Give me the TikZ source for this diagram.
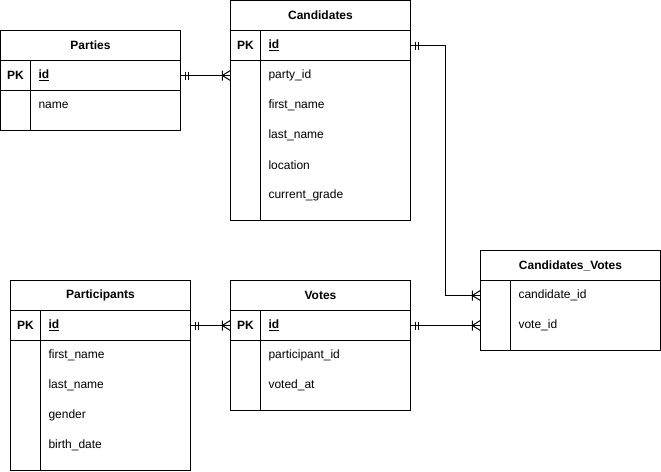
\documentclass[tikz,border=0pt]{standalone}
\usepackage{fontspec}
\setmainfont{Liberation Sans}
\begin{document}
\begin{tikzpicture}[x=1pt,y=-1pt,
  frame/.style={draw, line width=1pt, minimum width=180pt, inner sep=0},
  head/.style={minimum width=180pt, minimum height=30pt, inner sep=0,
    font=\bfseries\fontsize{12}{14}\selectfont},
  field/.style={minimum width=180pt, minimum height=30pt, text width=104pt,
    align=left, inner sep=0, font=\fontsize{12}{14}\selectfont},
  keyfield/.style={field, font=\bfseries\fontsize{12}{14}\selectfont},
  key/.style={minimum width=30pt, minimum height=30pt, inner sep=0,
    font=\bfseries\fontsize{12}{14}\selectfont},
  rule/.style={line width=1pt},
  rel/.style={line width=1pt},
  pics/onlyone/.style={code={\draw[rel] (5,-4) -- (5,4) (8,-4) -- (8,4);}},
  pics/onemany/.style={code={\draw[rel] (-8,-5) -- (-8,5) (0,-5) -- (-8,0) -- (0,5);}}]
\useasboundingbox (-0.5,-0.5) rectangle (660.5,470.5);

% ---------- Parties ----------
\node[frame, minimum height=100pt] (parties) at (90,80) {};
\node[head] (p-head) at (90,45) {Parties};
\node[key] (p-pk) at (15,75) {PK};
\node[keyfield] (p-id) at (90,75) {\underline{id}};
\node[field] (p-name) at (90,105) {name};
\draw[rule] (0,60) -- (180,60) (0,90) -- (180,90) (30,60) -- (30,130);

% ---------- Candidates ----------
\node[frame, minimum height=220pt] (cand) at (320,110) {};
\node[head] (c-head) at (320,15) {Candidates};
\node[key] (c-pk) at (245,45) {PK};
\node[keyfield] (c-id) at (320,45) {\underline{id}};
\node[field] (c-party) at (320,75) {party\_id};
\node[field] (c-first) at (320,105) {first\_name};
\node[field] (c-last) at (320,135) {last\_name};
\node[field] (c-loc) at (320,165) {location};
\node[field] (c-grade) at (320,195) {current\_grade};
\draw[rule] (230,30) -- (410,30) (230,60) -- (410,60) (260,30) -- (260,220);

% ---------- Participants ----------
\node[frame, minimum height=190pt] (part) at (100,375) {};
\node[head] (pa-head) at (100,295) {Participants};
\node[key] (pa-pk) at (25,325) {PK};
\node[keyfield] (pa-id) at (100,325) {\underline{id}};
\node[field] (pa-first) at (100,355) {first\_name};
\node[field] (pa-last) at (100,385) {last\_name};
\node[field] (pa-gender) at (100,415) {gender};
\node[field] (pa-birth) at (100,445) {birth\_date};
\draw[rule] (10,310) -- (190,310) (10,340) -- (190,340) (40,310) -- (40,470);

% ---------- Votes ----------
\node[frame, minimum height=130pt] (votes) at (320,345) {};
\node[head] (v-head) at (320,295) {Votes};
\node[key] (v-pk) at (245,325) {PK};
\node[keyfield] (v-id) at (320,325) {\underline{id}};
\node[field] (v-part) at (320,355) {participant\_id};
\node[field] (v-at) at (320,385) {voted\_at};
\draw[rule] (230,310) -- (410,310) (230,340) -- (410,340) (260,310) -- (260,410);

% ---------- Candidates_Votes ----------
\node[frame, minimum height=100pt] (cv) at (570,300) {};
\node[head] (cv-head) at (570,265) {Candidates\_Votes};
\node[field] (cv-cand) at (570,295) {candidate\_id};
\node[field] (cv-vote) at (570,325) {vote\_id};
\draw[rule] (480,280) -- (660,280) (510,280) -- (510,350);

% ---------- Relationships ----------
\draw[rel] (p-id.east) -- (c-party.west);
\pic at (p-id.east) {onlyone};
\pic at (c-party.west) {onemany};

\draw[rel] (c-id.east) -- ++(35,0) coordinate (bend) |- (cv-cand.west);
\pic at (c-id.east) {onlyone};
\pic at (cv-cand.west) {onemany};

\draw[rel] (pa-id.east) -- (v-id.west);
\pic at (pa-id.east) {onlyone};
\pic at (v-id.west) {onemany};

\draw[rel] (v-id.east) -- (cv-vote.west);
\pic at (v-id.east) {onlyone};
\pic at (cv-vote.west) {onemany};
\end{tikzpicture}
\end{document}
